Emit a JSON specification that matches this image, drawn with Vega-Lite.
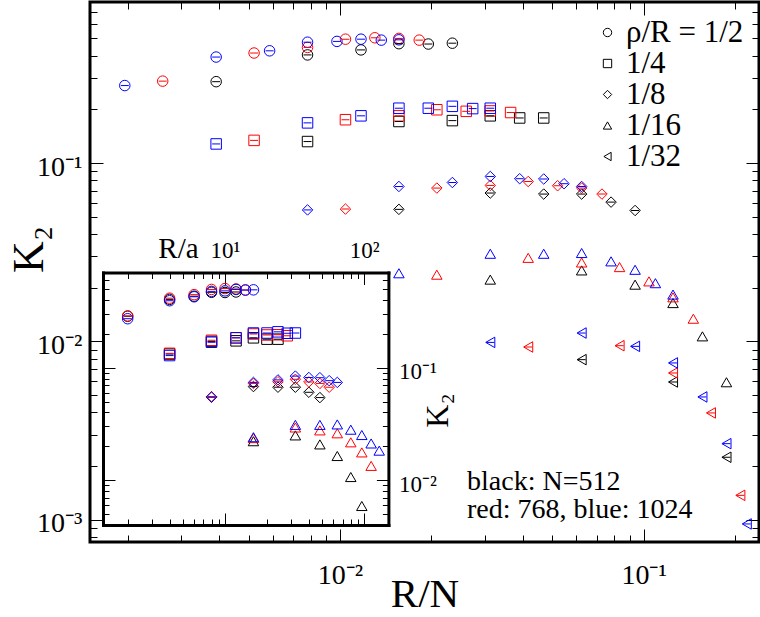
{
  "$schema": "https://vega.github.io/schema/vega-lite/v6.json",
  "autosize": "none",
  "padding": {"left": 90, "top": 2, "right": 1, "bottom": 75},
  "width": 669,
  "height": 540,
  "background": "white",
  "config": {
    "view": {"stroke": "black", "strokeWidth": 3},
    "font": "Liberation Serif",
    "axis": {
      "grid": false, "domain": false, "tickColor": "black", "tickWidth": 1,
      "labelColor": "black", "titleColor": "black", "labelFont": "Liberation Serif",
      "titleFont": "Liberation Serif", "titleFontWeight": "normal",
      "labelFlush": false, "labelOverlap": false, "labelBound": false
    }
  },
  "datasets": {
    "pts": [
      {"N":512,"rho":"1/2","R":2,"RN":0.00390625,"K2":0.286},
      {"N":512,"rho":"1/2","R":4,"RN":0.0078125,"K2":0.404},
      {"N":512,"rho":"1/2","R":6,"RN":0.01171875,"K2":0.431},
      {"N":512,"rho":"1/2","R":8,"RN":0.015625,"K2":0.467},
      {"N":512,"rho":"1/2","R":10,"RN":0.01953125,"K2":0.465},
      {"N":512,"rho":"1/2","R":12,"RN":0.0234375,"K2":0.47},
      {"N":768,"rho":"1/2","R":2,"RN":0.002604,"K2":0.288},
      {"N":768,"rho":"1/2","R":4,"RN":0.005208,"K2":0.414},
      {"N":768,"rho":"1/2","R":6,"RN":0.0078125,"K2":0.445},
      {"N":768,"rho":"1/2","R":8,"RN":0.010417,"K2":0.495},
      {"N":768,"rho":"1/2","R":10,"RN":0.013021,"K2":0.504},
      {"N":768,"rho":"1/2","R":12,"RN":0.015625,"K2":0.5},
      {"N":768,"rho":"1/2","R":14,"RN":0.018229,"K2":0.489},
      {"N":1024,"rho":"1/2","R":2,"RN":0.001953,"K2":0.272},
      {"N":1024,"rho":"1/2","R":4,"RN":0.003906,"K2":0.393},
      {"N":1024,"rho":"1/2","R":6,"RN":0.005859,"K2":0.426},
      {"N":1024,"rho":"1/2","R":8,"RN":0.0078125,"K2":0.476},
      {"N":1024,"rho":"1/2","R":10,"RN":0.009766,"K2":0.481},
      {"N":1024,"rho":"1/2","R":12,"RN":0.011719,"K2":0.495},
      {"N":1024,"rho":"1/2","R":14,"RN":0.013672,"K2":0.489},
      {"N":1024,"rho":"1/2","R":16,"RN":0.015625,"K2":0.491},
      {"N":512,"rho":"1/4","R":4,"RN":0.0078125,"K2":0.132},
      {"N":512,"rho":"1/4","R":8,"RN":0.015625,"K2":0.171},
      {"N":512,"rho":"1/4","R":12,"RN":0.0234375,"K2":0.173},
      {"N":512,"rho":"1/4","R":16,"RN":0.03125,"K2":0.184},
      {"N":512,"rho":"1/4","R":20,"RN":0.0390625,"K2":0.179},
      {"N":512,"rho":"1/4","R":24,"RN":0.046875,"K2":0.179},
      {"N":768,"rho":"1/4","R":4,"RN":0.005208,"K2":0.134},
      {"N":768,"rho":"1/4","R":8,"RN":0.010417,"K2":0.175},
      {"N":768,"rho":"1/4","R":12,"RN":0.015625,"K2":0.184},
      {"N":768,"rho":"1/4","R":16,"RN":0.020833,"K2":0.199},
      {"N":768,"rho":"1/4","R":20,"RN":0.026042,"K2":0.195},
      {"N":768,"rho":"1/4","R":24,"RN":0.03125,"K2":0.196},
      {"N":768,"rho":"1/4","R":28,"RN":0.036458,"K2":0.192},
      {"N":1024,"rho":"1/4","R":4,"RN":0.003906,"K2":0.128},
      {"N":1024,"rho":"1/4","R":8,"RN":0.0078125,"K2":0.168},
      {"N":1024,"rho":"1/4","R":12,"RN":0.011719,"K2":0.184},
      {"N":1024,"rho":"1/4","R":16,"RN":0.015625,"K2":0.203},
      {"N":1024,"rho":"1/4","R":20,"RN":0.019531,"K2":0.203},
      {"N":1024,"rho":"1/4","R":24,"RN":0.023438,"K2":0.208},
      {"N":1024,"rho":"1/4","R":28,"RN":0.027344,"K2":0.202},
      {"N":1024,"rho":"1/4","R":32,"RN":0.03125,"K2":0.203},
      {"N":512,"rho":"1/8","R":8,"RN":0.015625,"K2":0.055},
      {"N":512,"rho":"1/8","R":16,"RN":0.03125,"K2":0.0679},
      {"N":512,"rho":"1/8","R":24,"RN":0.046875,"K2":0.067},
      {"N":512,"rho":"1/8","R":32,"RN":0.0625,"K2":0.067},
      {"N":512,"rho":"1/8","R":40,"RN":0.078125,"K2":0.0604},
      {"N":512,"rho":"1/8","R":48,"RN":0.09375,"K2":0.0542},
      {"N":768,"rho":"1/8","R":8,"RN":0.010417,"K2":0.0552},
      {"N":768,"rho":"1/8","R":16,"RN":0.020833,"K2":0.0724},
      {"N":768,"rho":"1/8","R":24,"RN":0.03125,"K2":0.0749},
      {"N":768,"rho":"1/8","R":32,"RN":0.041667,"K2":0.0788},
      {"N":768,"rho":"1/8","R":40,"RN":0.052083,"K2":0.0746},
      {"N":768,"rho":"1/8","R":48,"RN":0.0625,"K2":0.0724},
      {"N":768,"rho":"1/8","R":56,"RN":0.072917,"K2":0.067},
      {"N":1024,"rho":"1/8","R":8,"RN":0.0078125,"K2":0.0546},
      {"N":1024,"rho":"1/8","R":16,"RN":0.015625,"K2":0.0739},
      {"N":1024,"rho":"1/8","R":24,"RN":0.023438,"K2":0.0778},
      {"N":1024,"rho":"1/8","R":32,"RN":0.03125,"K2":0.0841},
      {"N":1024,"rho":"1/8","R":40,"RN":0.039063,"K2":0.0817},
      {"N":1024,"rho":"1/8","R":48,"RN":0.046875,"K2":0.0814},
      {"N":1024,"rho":"1/8","R":56,"RN":0.054688,"K2":0.0766},
      {"N":1024,"rho":"1/8","R":64,"RN":0.0625,"K2":0.0739},
      {"N":512,"rho":"1/16","R":16,"RN":0.03125,"K2":0.0222},
      {"N":512,"rho":"1/16","R":32,"RN":0.0625,"K2":0.025},
      {"N":512,"rho":"1/16","R":48,"RN":0.09375,"K2":0.0208},
      {"N":512,"rho":"1/16","R":64,"RN":0.125,"K2":0.0164},
      {"N":512,"rho":"1/16","R":80,"RN":0.15625,"K2":0.01067},
      {"N":512,"rho":"1/16","R":96,"RN":0.1875,"K2":0.0059},
      {"N":768,"rho":"1/16","R":16,"RN":0.020833,"K2":0.02366},
      {"N":768,"rho":"1/16","R":32,"RN":0.041667,"K2":0.0294},
      {"N":768,"rho":"1/16","R":48,"RN":0.0625,"K2":0.0277},
      {"N":768,"rho":"1/16","R":64,"RN":0.083333,"K2":0.0261},
      {"N":768,"rho":"1/16","R":80,"RN":0.104167,"K2":0.0217},
      {"N":768,"rho":"1/16","R":96,"RN":0.125,"K2":0.01766},
      {"N":768,"rho":"1/16","R":112,"RN":0.145833,"K2":0.0134},
      {"N":1024,"rho":"1/16","R":16,"RN":0.015625,"K2":0.0241},
      {"N":1024,"rho":"1/16","R":32,"RN":0.03125,"K2":0.031},
      {"N":1024,"rho":"1/16","R":48,"RN":0.046875,"K2":0.031},
      {"N":1024,"rho":"1/16","R":64,"RN":0.0625,"K2":0.0313},
      {"N":1024,"rho":"1/16","R":80,"RN":0.078125,"K2":0.0281},
      {"N":1024,"rho":"1/16","R":96,"RN":0.09375,"K2":0.0252},
      {"N":1024,"rho":"1/16","R":112,"RN":0.109375,"K2":0.0212},
      {"N":1024,"rho":"1/16","R":128,"RN":0.125,"K2":0.0183},
      {"N":512,"rho":"1/32","R":32,"RN":0.0625,"K2":0.0079},
      {"N":512,"rho":"1/32","R":64,"RN":0.125,"K2":0.00592},
      {"N":512,"rho":"1/32","R":96,"RN":0.1875,"K2":0.00224},
      {"N":768,"rho":"1/32","R":32,"RN":0.041667,"K2":0.0093},
      {"N":768,"rho":"1/32","R":64,"RN":0.083333,"K2":0.00946},
      {"N":768,"rho":"1/32","R":96,"RN":0.125,"K2":0.00665},
      {"N":768,"rho":"1/32","R":128,"RN":0.166667,"K2":0.00397},
      {"N":768,"rho":"1/32","R":160,"RN":0.208333,"K2":0.00137},
      {"N":1024,"rho":"1/32","R":32,"RN":0.03125,"K2":0.00987},
      {"N":1024,"rho":"1/32","R":64,"RN":0.0625,"K2":0.01114},
      {"N":1024,"rho":"1/32","R":96,"RN":0.09375,"K2":0.00938},
      {"N":1024,"rho":"1/32","R":128,"RN":0.125,"K2":0.00757},
      {"N":1024,"rho":"1/32","R":160,"RN":0.15625,"K2":0.00488},
      {"N":1024,"rho":"1/32","R":192,"RN":0.1875,"K2":0.00267},
      {"N":1024,"rho":"1/32","R":224,"RN":0.21875,"K2":0.000947}
    ]
  },
  "layer": [
    {
      "data": {"name": "pts"},
      "mark": {"type": "point", "filled": false, "strokeWidth": 1, "opacity": 1, "size": 110},
      "encoding": {
        "x": {"field": "RN", "type": "quantitative",
          "scale": {"type": "log", "domain": [0.0015, 0.24], "nice": false},
          "axis": {"orient": "bottom",
            "values": [0.002,0.003,0.004,0.005,0.006,0.007,0.008,0.009,0.01,0.02,0.03,0.04,0.05,0.06,0.07,0.08,0.09,0.1,0.2],
            "labelExpr": "datum.value==0.01?'10⁻²':(datum.value==0.1?'10⁻¹':'')",
            "labelFontSize": 28, "labelPadding": 32, "labelBaseline": "top",
            "tickSize": {"condition": {"test": "datum.value==0.01||datum.value==0.1", "value": -13}, "value": -7},
            "title": "R/N", "titleFontSize": 41, "titleY": 64, "titleBaseline": "alphabetic"}},
        "y": {"field": "K2", "type": "quantitative",
          "scale": {"type": "log", "domain": [0.00075, 0.8], "nice": false},
          "axis": {"orient": "left",
            "values": [0.0008,0.0009,0.001,0.002,0.003,0.004,0.005,0.006,0.007,0.008,0.009,0.01,0.02,0.03,0.04,0.05,0.06,0.07,0.08,0.09,0.1,0.2,0.3,0.4,0.5,0.6,0.7],
            "labelExpr": "datum.value==0.001?'10⁻³':(datum.value==0.01?'10⁻²':(datum.value==0.1?'10⁻¹':''))",
            "labelFontSize": 28, "labelPadding": 21, "labelOffset": 4,
            "tickSize": {"condition": {"test": "datum.value==0.001||datum.value==0.01||datum.value==0.1", "value": -13}, "value": -7},
            "title": "K₂", "titleFontSize": 44, "titleX": -61, "titleY": 247, "titleAlign": "center", "titleBaseline": "middle", "titleAngle": -90}},
        "color": {"field": "N", "type": "nominal", "scale": {"domain": [512, 768, 1024], "range": ["#000000", "#ff0000", "#0000ff"]}, "legend": null},
        "shape": {"field": "rho", "type": "nominal",
          "scale": {"domain": ["1/2","1/4","1/8","1/16","1/32"], "range": ["circle","square","diamond","triangle-up","triangle-left"]},
          "legend": {"orient": "none", "legendX": 502, "legendY": 15, "title": null,
            "labelFont": "Liberation Serif", "labelFontSize": 31, "labelColor": "black",
            "symbolStrokeColor": "black", "symbolFillColor": "transparent", "symbolStrokeWidth": 1, "symbolSize": 70,
            "labelOffset": 3, "rowPadding": -1, "labelLimit": 300,
            "labelExpr": "datum.label=='1/2'?'ρ/R = 1/2':datum.label"}}
      }
    },
    {
      "data": {"name": "pts"},
      "transform": [{"filter": "datum.rho != '1/16'"}],
      "mark": {"type": "tick", "orient": "horizontal", "size": 8, "thickness": 1, "opacity": 1},
      "encoding": {
        "x": {"field": "RN", "type": "quantitative",
          "scale": {"type": "log", "domain": [0.0015, 0.24], "nice": false},
          "axis": {"orient": "top",
            "values": [0.002,0.003,0.004,0.005,0.006,0.007,0.008,0.009,0.01,0.02,0.03,0.04,0.05,0.06,0.07,0.08,0.09,0.1,0.2],
            "labels": false, "title": null,
            "tickSize": {"condition": {"test": "datum.value==0.01||datum.value==0.1", "value": -13}, "value": -7}}},
        "y": {"field": "K2", "type": "quantitative",
          "scale": {"type": "log", "domain": [0.00075, 0.8], "nice": false},
          "axis": {"orient": "right",
            "values": [0.0008,0.0009,0.001,0.002,0.003,0.004,0.005,0.006,0.007,0.008,0.009,0.01,0.02,0.03,0.04,0.05,0.06,0.07,0.08,0.09,0.1,0.2,0.3,0.4,0.5,0.6,0.7],
            "labels": false, "title": null,
            "tickSize": {"condition": {"test": "datum.value==0.001||datum.value==0.01||datum.value==0.1", "value": -13}, "value": -7}}},
        "color": {"field": "N", "type": "nominal", "scale": {"domain": [512, 768, 1024], "range": ["#000000", "#ff0000", "#0000ff"]}, "legend": null}
      }
    },
    {
      "data": {"name": "pts"},
      "transform": [{"filter": "datum.rho != '1/32'"}],
      "mark": {"type": "point", "filled": false, "strokeWidth": 1, "opacity": 1, "size": 110},
      "encoding": {
        "x": {"field": "R", "type": "quantitative",
          "scale": {"type": "log", "domain": [1.33, 149], "range": [13, 298.4], "nice": false},
          "axis": {"orient": "top", "offset": -270.5,
            "values": [2,3,4,5,6,7,8,9,10,20,30,40,50,60,70,80,90,100],
            "labelExpr": "datum.value==10?'10¹':(datum.value==100?'10²':'')",
            "labelFontSize": 23, "labelPadding": 27, "labelBaseline": "alphabetic",
            "tickSize": {"condition": {"test": "datum.value==10||datum.value==100", "value": -12}, "value": -6},
            "domain": true, "domainColor": "black", "domainWidth": 3, "domainCap": "square",
            "title": "R/a", "titleFontSize": 29, "titleX": 88, "titleY": -15.5, "titleAngle": 0, "titleAlign": "center", "titleBaseline": "alphabetic"}},
        "y": {"field": "K2", "type": "quantitative",
          "scale": {"type": "log", "domain": [0.004, 0.7], "range": [523, 270.5], "nice": false},
          "axis": {"orient": "right", "offset": -370.6,
            "values": [0.004,0.005,0.006,0.007,0.008,0.009,0.01,0.02,0.03,0.04,0.05,0.06,0.07,0.08,0.09,0.1,0.2,0.3,0.4,0.5,0.6],
            "labelExpr": "datum.value==0.01?'10⁻²':(datum.value==0.1?'10⁻¹':'')",
            "labelFontSize": 23, "labelPadding": 22, "labelOffset": 4,
            "tickSize": {"condition": {"test": "datum.value==0.01||datum.value==0.1", "value": -12}, "value": -6},
            "domain": true, "domainColor": "black", "domainWidth": 3, "domainCap": "square",
            "title": "K₂", "titleFontSize": 32, "titleX": 48.6, "titleY": 408, "titleAngle": 270, "titleAlign": "center", "titleBaseline": "middle"}},
        "color": {"field": "N", "type": "nominal", "scale": {"domain": [512, 768, 1024], "range": ["#000000", "#ff0000", "#0000ff"]}, "legend": null},
        "shape": {"field": "rho", "type": "nominal",
          "scale": {"domain": ["1/2","1/4","1/8","1/16","1/32"], "range": ["circle","square","diamond","triangle-up","triangle-left"]}}
      }
    },
    {
      "data": {"name": "pts"},
      "transform": [{"filter": "datum.rho != '1/32' && datum.rho != '1/16'"}],
      "mark": {"type": "tick", "orient": "horizontal", "size": 8, "thickness": 1, "opacity": 1},
      "encoding": {
        "x": {"field": "R", "type": "quantitative",
          "scale": {"type": "log", "domain": [1.33, 149], "range": [13, 298.4], "nice": false},
          "axis": {"orient": "bottom", "offset": -17,
            "values": [2,3,4,5,6,7,8,9,10,20,30,40,50,60,70,80,90,100],
            "labels": false, "title": null,
            "tickSize": {"condition": {"test": "datum.value==10||datum.value==100", "value": -12}, "value": -6},
            "domain": true, "domainColor": "black", "domainWidth": 3, "domainCap": "square"}},
        "y": {"field": "K2", "type": "quantitative",
          "scale": {"type": "log", "domain": [0.004, 0.7], "range": [523, 270.5], "nice": false},
          "axis": {"orient": "left", "offset": -13,
            "values": [0.004,0.005,0.006,0.007,0.008,0.009,0.01,0.02,0.03,0.04,0.05,0.06,0.07,0.08,0.09,0.1,0.2,0.3,0.4,0.5,0.6],
            "labels": false, "title": null,
            "tickSize": {"condition": {"test": "datum.value==0.01||datum.value==0.1", "value": -12}, "value": -6},
            "domain": true, "domainColor": "black", "domainWidth": 3, "domainCap": "square"}},
        "color": {"field": "N", "type": "nominal", "scale": {"domain": [512, 768, 1024], "range": ["#000000", "#ff0000", "#0000ff"]}, "legend": null}
      }
    },
    {
      "data": {"values": [{}]},
      "mark": {"type": "text", "align": "left", "baseline": "alphabetic", "font": "Liberation Serif", "fontSize": 28, "lineHeight": 27.6, "color": "black"},
      "encoding": {
        "x": {"datum": 0.0262, "type": "quantitative", "scale": {"type": "log", "domain": [0.0015, 0.24], "nice": false}, "axis": null},
        "y": {"datum": 0.00146, "type": "quantitative", "scale": {"type": "log", "domain": [0.00075, 0.8], "nice": false}, "axis": null},
        "text": {"value": ["black: N=512", "red: 768, blue: 1024"]}
      }
    }
  ],
  "resolve": {"scale": {"x": "independent", "y": "independent", "color": "shared", "shape": "shared"}}
}
